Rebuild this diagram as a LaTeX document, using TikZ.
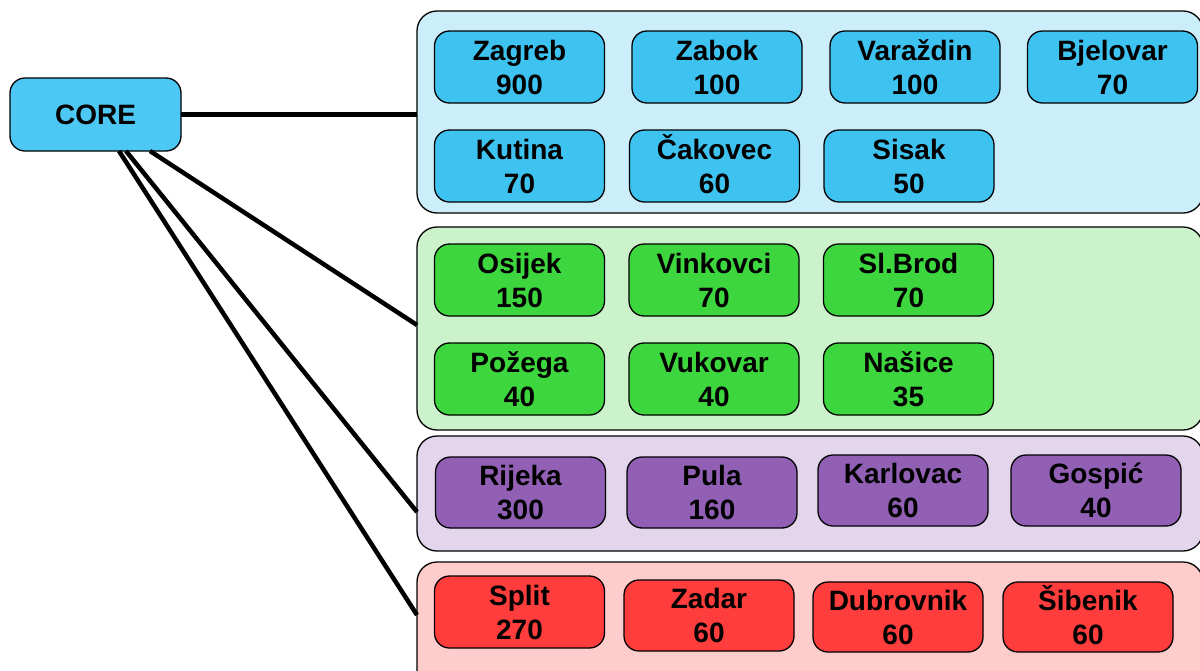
\documentclass[tikz,border=0pt]{standalone}
\usepackage{fontspec}
\setmainfont{Liberation Sans}
\definecolor{corefill}{HTML}{4DC8F4}
\definecolor{bluefill}{HTML}{3EC3F1}
\definecolor{bluebg}{HTML}{CCEEFA}
\definecolor{greenfill}{HTML}{3ED63E}
\definecolor{greenbg}{HTML}{CCF2CC}
\definecolor{purplefill}{HTML}{9160B5}
\definecolor{purplebg}{HTML}{E2D5EC}
\definecolor{redfill}{HTML}{FF3D3D}
\definecolor{redbg}{HTML}{FFCCCC}
\newcommand\ctxt[2]{\rule{0pt}{21pt}\smash{#1}\\#2}
\begin{document}
\begin{tikzpicture}[x=1pt,y=-1pt,
  city/.style={draw=black, line width=1.3pt, rounded corners=15pt, align=center,
    inner sep=0pt, outer sep=0pt, minimum width=170pt, minimum height=72pt,
    font=\fontsize{28}{34}\selectfont\bfseries},
  grp/.style={draw=black, line width=1.3pt, rounded corners=20pt, inner sep=0pt,
    outer sep=0pt, anchor=north west, minimum width=786pt},
  link/.style={line width=4.5pt, draw=black}]
\useasboundingbox (0,0) rectangle (1200,670);
\clip (0,0) rectangle (1200,670);

% groups
\node[grp, fill=bluebg,   minimum height=202pt] (g1) at (417,11) {};
\node[grp, fill=greenbg,  minimum height=203pt] (g2) at (417,227) {};
\node[grp, fill=purplebg, minimum height=115pt] (g3) at (417,436) {};
\node[grp, fill=redbg,    minimum height=138pt] (g4) at (417,562) {};

% core
\node[city, fill=corefill, minimum width=171pt, minimum height=73pt] (core) at (95.5,114.5) {CORE};

% links
\draw[link] (core.east) -- (core.east -| g1.west);
\draw[link] ([xshift=-31pt]core.south east) -- ([yshift=3.5pt]g2.west);
\draw[link] ([xshift=-55pt]core.south east) -- ([yshift=-18.5pt]g3.west);
\draw[link] ([xshift=-62pt]core.south east) -- ([yshift=16pt]g4.west);

% group 1
\node[city, fill=bluefill] (zagreb)   at (519.5,67) {\ctxt{Zagreb}{900}};
\node[city, fill=bluefill] (zabok)    at (717,67)   {\ctxt{Zabok}{100}};
\node[city, fill=bluefill] (varazdin) at (915,67)   {\ctxt{Varaždin}{100}};
\node[city, fill=bluefill] (bjelovar) at (1112.5,67) {\ctxt{Bjelovar}{70}};
\node[city, fill=bluefill] (kutina)   at (519.5,166) {\ctxt{Kutina}{70}};
\node[city, fill=bluefill] (cakovec)  at (714.5,166) {\ctxt{Čakovec}{60}};
\node[city, fill=bluefill] (sisak)    at (909,166)   {\ctxt{Sisak}{50}};

% group 2
\node[city, fill=greenfill] (osijek)   at (519.5,280) {\ctxt{Osijek}{150}};
\node[city, fill=greenfill] (vinkovci) at (714,280)   {\ctxt{Vinkovci}{70}};
\node[city, fill=greenfill] (slbrod)   at (908.5,280) {\ctxt{Sl.Brod}{70}};
\node[city, fill=greenfill] (pozega)   at (519.5,379) {\ctxt{Požega}{40}};
\node[city, fill=greenfill] (vukovar)  at (714,379)   {\ctxt{Vukovar}{40}};
\node[city, fill=greenfill] (nasice)   at (908.5,379) {\ctxt{Našice}{35}};

% group 3
\node[city, fill=purplefill, minimum height=71pt] (rijeka)   at (520.5,492.5) {\ctxt{Rijeka}{300}};
\node[city, fill=purplefill, minimum height=71pt] (pula)     at (712,492.5)   {\ctxt{Pula}{160}};
\node[city, fill=purplefill, minimum height=71pt] (karlovac) at (903,490.5)   {\ctxt{Karlovac}{60}};
\node[city, fill=purplefill, minimum height=71pt] (gospic)   at (1096,490.5)  {\ctxt{Gospić}{40}};

% group 4
\node[city, fill=redfill] (split)     at (519.5,612)  {\ctxt{Split}{270}};
\node[city, fill=redfill, minimum height=71pt] (zadar)     at (709,615.5)  {\ctxt{Zadar}{60}};
\node[city, fill=redfill, minimum height=70pt] (dubrovnik) at (898,617)    {\ctxt{Dubrovnik}{60}};
\node[city, fill=redfill, minimum height=70pt] (sibenik)   at (1088,617)   {\ctxt{Šibenik}{60}};
\end{tikzpicture}
\end{document}
